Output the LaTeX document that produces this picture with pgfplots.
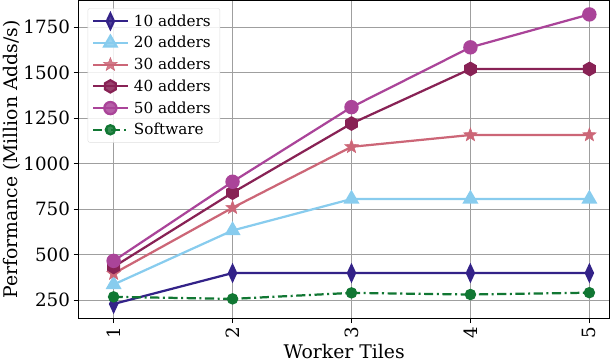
\documentclass[border=0pt]{standalone}
\usepackage{fontspec}
\setmainfont{DejaVu Serif}
\usepackage{pgfplots}
\pgfplotsset{compat=1.18}
\definecolor{cA}{HTML}{332288}
\definecolor{cB}{HTML}{88CCEE}
\definecolor{cC}{HTML}{CC6677}
\definecolor{cD}{HTML}{882255}
\definecolor{cE}{HTML}{AA4499}
\definecolor{cF}{HTML}{117733}
\pgfdeclareplotmark{hexagon*}{%
  \pgfpathmoveto{\pgfqpointpolar{90}{1.1\pgfplotmarksize}}%
  \pgfpathlineto{\pgfqpointpolar{150}{1.1\pgfplotmarksize}}%
  \pgfpathlineto{\pgfqpointpolar{210}{1.1\pgfplotmarksize}}%
  \pgfpathlineto{\pgfqpointpolar{270}{1.1\pgfplotmarksize}}%
  \pgfpathlineto{\pgfqpointpolar{330}{1.1\pgfplotmarksize}}%
  \pgfpathlineto{\pgfqpointpolar{30}{1.1\pgfplotmarksize}}%
  \pgfpathclose\pgfusepathqfillstroke}
\pgfdeclareplotmark{fstar}{%
  \pgfpathmoveto{\pgfqpointpolar{90}{\pgfplotmarksize}}%
  \pgfpathlineto{\pgfqpointpolar{126}{0.42\pgfplotmarksize}}%
  \pgfpathlineto{\pgfqpointpolar{162}{\pgfplotmarksize}}%
  \pgfpathlineto{\pgfqpointpolar{198}{0.42\pgfplotmarksize}}%
  \pgfpathlineto{\pgfqpointpolar{234}{\pgfplotmarksize}}%
  \pgfpathlineto{\pgfqpointpolar{270}{0.42\pgfplotmarksize}}%
  \pgfpathlineto{\pgfqpointpolar{306}{\pgfplotmarksize}}%
  \pgfpathlineto{\pgfqpointpolar{342}{0.42\pgfplotmarksize}}%
  \pgfpathlineto{\pgfqpointpolar{18}{\pgfplotmarksize}}%
  \pgfpathlineto{\pgfqpointpolar{54}{0.42\pgfplotmarksize}}%
  \pgfpathclose\pgfusepathqfillstroke}
\begin{document}
\begin{tikzpicture}
\begin{axis}[
  scale only axis, width=523pt, height=313pt,
  xmin=0.706, xmax=5.17, ymin=150, ymax=1897,
  xtick={1,2,3,4,5},
  xticklabel style={rotate=90, anchor=east},
  ytick={250,500,750,1000,1250,1500,1750},
  tick label style={font=\fontsize{18}{21}\selectfont},
  /pgf/number format/assume math mode=true,
  /pgf/number format/1000 sep={},
  xlabel={Worker Tiles}, ylabel={Performance (Million Adds/s)},
  label style={font=\fontsize{18.5}{22}\selectfont},
  xlabel style={yshift=1pt},
  ylabel style={yshift=-4pt},
  grid=major, grid style={gray!75, line width=0.8pt},
  tick align=outside, major tick length=5pt,
  tick style={black, line width=0.8pt},
  xtick pos=bottom, ytick pos=left,
  axis line style={black, line width=0.8pt},
  legend style={at={(0.017,0.975)}, anchor=north west, draw=gray!25, rounded corners=2pt, fill=white, fill opacity=0.85, text opacity=1, font=\fontsize{15}{18}\selectfont, row sep=4.5pt, inner sep=4pt,
    nodes={inner xsep=5pt}},
  legend cell align=left,
  legend image code/.code={\draw[mark repeat=2,mark phase=2,#1] plot coordinates {(0cm,0cm) (0.6cm,0cm) (1.2cm,0cm)};},
  every axis plot/.append style={line width=2.2pt},
]
\addplot[cA, mark=diamond*, mark size=7.5pt, mark options={xscale=0.62, solid}] coordinates {(1,228) (2,398) (3,398) (4,398) (5,398)};
\addlegendentry{10 adders}
\addplot[cB, mark=triangle*, mark size=7pt, mark options={solid}] coordinates {(1,335) (2,632) (3,805) (4,805) (5,805)};
\addlegendentry{20 adders}
\addplot[cC, mark=fstar, mark size=7pt, mark options={solid, line width=0.5pt}] coordinates {(1,395) (2,757) (3,1092) (4,1157) (5,1157)};
\addlegendentry{30 adders}
\addplot[cD, mark=hexagon*, mark size=5.5pt, mark options={solid}] coordinates {(1,432) (2,840) (3,1220) (4,1520) (5,1520)};
\addlegendentry{40 adders}
\addplot[cE, mark=*, mark size=6pt, mark options={solid}] coordinates {(1,465) (2,900) (3,1310) (4,1639) (5,1820)};
\addlegendentry{50 adders}
\addplot[cF, mark=*, mark size=4.5pt, dash pattern=on 9pt off 3.5pt on 2pt off 3.5pt, mark options={solid}] coordinates {(1,267) (2,256) (3,289) (4,280) (5,290)};
\addlegendentry{Software}
\end{axis}
\end{tikzpicture}
\end{document}
